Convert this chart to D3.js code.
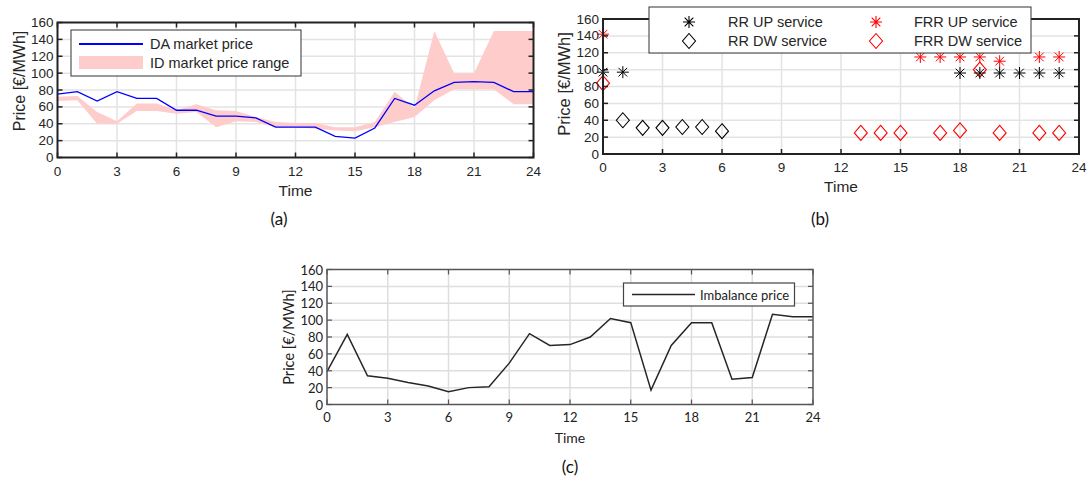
<!DOCTYPE html>
<html lang="en">
<head>
  <meta charset="UTF-8" />
  <title>D3 - price charts</title>
  <script src="https://d3js.org/d3.v7.min.js" charset="utf-8"></script>
  <style type="text/css">
  body { margin: 0; background: #fff; }
  svg { display: block; }
  .ml text { font-family: "Liberation Sans", Arial, sans-serif; fill: #262626; }
  .ex text { font-family: Lato, "Open Sans", sans-serif; fill: #222; }
  .cap { font-family: Lato, sans-serif; font-size: 17px; fill: #111; }
  </style>
</head>
<body>
<script type="text/javascript">

// ---- data ----
const hours = d3.range(0, 25);
const xTicks = [0, 3, 6, 9, 12, 15, 18, 21, 24];
const yTicks = [0, 20, 40, 60, 80, 100, 120, 140, 160];

// (a) day-ahead price and intraday price range
const daPrice = [75, 78, 67, 78, 70, 70, 56, 56, 49, 49, 47, 36, 36, 36, 25, 23, 35, 70, 62, 79, 89, 90, 89, 78, 78];
const idLow  = [67, 68, 40, 40, 55, 55, 52, 54, 36, 43, 42, 36, 36, 34, 32, 31, 36, 42, 48, 68, 81, 81, 81, 63, 63];
const idHigh = [72, 73, 54, 43, 64, 64, 56, 63, 56, 55, 48, 42, 41, 41, 36, 36, 42, 78, 58, 150, 100, 100, 150, 150, 150];

// (b) reserve services
const rrUpHours = [0, 1, 18, 19, 20, 21, 22, 23];
const rrUpPrice = [97, 97, 96, 96, 96, 96, 96, 96];
const rrDwHours = [1, 2, 3, 4, 5, 6];
const rrDwPrice = [40, 31, 31, 32, 32, 27];
const frrUpHours = [0, 16, 17, 18, 19, 20, 22, 23];
const frrUpPrice = [142, 115, 115, 115, 115, 110, 115, 115];
const frrDwHours = [0, 13, 14, 15, 17, 18, 19, 20, 22, 23];
const frrDwPrice = [84, 25, 25, 25, 25, 28, 100, 25, 25, 25];

// (c) imbalance price
const imbalance = [39, 83, 34, 31, 26, 22, 15, 20, 21, 49, 84, 70, 71, 80, 102, 97, 17, 70, 97, 97, 30, 32, 107, 104, 104];

const svg = d3.select("body").append("svg")
    .attr("width", 1088)
    .attr("height", 485);

svg.append("rect").attr("width", 1088).attr("height", 485).attr("fill", "#fff");

// grid lines of one panel
function frame(g, x, y, o) {
  const [x0, x1] = x.range(), [y0, y1] = y.range();
  const grid = g.append("g").attr("stroke", o.grid).attr("stroke-width", o.gridW);
  grid.selectAll(".gx").data(xTicks.slice(1, -1)).join("line")
      .attr("x1", d => x(d)).attr("x2", d => x(d)).attr("y1", y0).attr("y2", y1);
  grid.selectAll(".gy").data(yTicks.slice(1, -1)).join("line")
      .attr("x1", x0).attr("x2", x1).attr("y1", d => y(d)).attr("y2", d => y(d));
}

// box, inward ticks on all four sides, labels
function box(g, x, y, o) {
  const [x0, x1] = x.range(), [y0, y1] = y.range();
  const t = g.append("g").attr("stroke", o.axis).attr("stroke-width", o.tickW);
  const L = 5;
  xTicks.forEach(d => {
    t.append("line").attr("x1", x(d)).attr("x2", x(d)).attr("y1", y0).attr("y2", y0 - L);
    t.append("line").attr("x1", x(d)).attr("x2", x(d)).attr("y1", y1).attr("y2", y1 + L);
  });
  yTicks.forEach(d => {
    t.append("line").attr("x1", x0).attr("x2", x0 + L).attr("y1", y(d)).attr("y2", y(d));
    t.append("line").attr("x1", x1).attr("x2", x1 - L).attr("y1", y(d)).attr("y2", y(d));
  });
  g.append("rect")
      .attr("x", x0).attr("y", y1).attr("width", x1 - x0).attr("height", y0 - y1)
      .attr("fill", "none").attr("stroke", o.axis).attr("stroke-width", o.boxW);

  g.append("g").selectAll("text").data(xTicks).join("text")
      .attr("x", d => x(d)).attr("y", y0 + o.xLabOff)
      .attr("text-anchor", "middle").attr("dominant-baseline", "central")
      .attr("font-size", o.tickFs).text(d => d);
  g.append("g").selectAll("text").data(yTicks).join("text")
      .attr("x", x0 - 4).attr("y", d => y(d))
      .attr("text-anchor", "end").attr("dominant-baseline", "central")
      .attr("font-size", o.tickFs).text(d => d);

  g.append("text")
      .attr("x", (x0 + x1) / 2).attr("y", o.timeY)
      .attr("text-anchor", "middle").attr("dominant-baseline", "central")
      .attr("font-size", o.labFs).text("Time");
  g.append("text")
      .attr("transform", `translate(${o.priceX},${o.priceY}) rotate(-90)`)
      .attr("text-anchor", "middle").attr("dominant-baseline", "central")
      .attr("font-size", o.priceFs).text("Price [€/MWh]");
}

const star = r => {
  const d = r * 0.72;
  return `M${-r},0L${r},0M0,${-r}L0,${r}M${-d},${-d}L${d},${d}M${-d},${d}L${d},${-d}`;
};
const diamond = (w, h) => `M0,${-h}L${w},0L0,${h}L${-w},0Z`;

// ---------- (a) ----------
{
  const g = svg.append("g").attr("class", "ml");
  const x = d3.scaleLinear().domain([0, 24]).range([57.5, 533.5]);
  const y = d3.scaleLinear().domain([0, 160]).range([157.5, 22.5]);
  const o = { grid: "#e3e3e3", gridW: 1.5, axis: "#222", tickW: 1.5, boxW: 2,
              tickFs: 13.5, labFs: 15.5, priceFs: 16, xLabOff: 14, timeY: 190, priceX: 19, priceY: 81 };
  frame(g, x, y, o);

  g.append("path")
      .datum(hours)
      .attr("fill", "#ffcccc")
      .attr("d", d3.area().x(d => x(d)).y0(d => y(idLow[d])).y1(d => y(idHigh[d])));
  g.append("path")
      .datum(hours)
      .attr("fill", "none").attr("stroke", "#0000ff").attr("stroke-width", 1.3)
      .attr("d", d3.line().x(d => x(d)).y(d => y(daPrice[d])));

  box(g, x, y, o);

  const lg = g.append("g");
  lg.append("rect").attr("x", 71).attr("y", 30).attr("width", 230).attr("height", 46)
      .attr("fill", "#fff").attr("stroke", "#333").attr("stroke-width", 1);
  lg.append("line").attr("x1", 79).attr("x2", 143).attr("y1", 44).attr("y2", 44)
      .attr("stroke", "#0000ff").attr("stroke-width", 2);
  lg.append("rect").attr("x", 79).attr("y", 56).attr("width", 64).attr("height", 13).attr("fill", "#ffcccc");
  lg.append("text").attr("x", 150).attr("y", 44).attr("dominant-baseline", "central")
      .attr("font-size", 14.5).text("DA market price");
  lg.append("text").attr("x", 150).attr("y", 63).attr("dominant-baseline", "central")
      .attr("font-size", 14.5).text("ID market price range");
}

// ---------- (b) ----------
{
  const g = svg.append("g").attr("class", "ml");
  const x = d3.scaleLinear().domain([0, 24]).range([603, 1079]);
  const y = d3.scaleLinear().domain([0, 160]).range([154, 19]);
  const o = { grid: "#e3e3e3", gridW: 1.5, axis: "#222", tickW: 1.5, boxW: 2,
              tickFs: 13.5, labFs: 15.5, priceFs: 16.5, xLabOff: 13, timeY: 186, priceX: 564, priceY: 84 };
  frame(g, x, y, o);

  const pts = [
    { h: frrDwHours, v: frrDwPrice, d: diamond(6.5, 7.5), c: "#ff0000", w: 1.1 },
    { h: rrDwHours, v: rrDwPrice, d: diamond(6.5, 7.5), c: "#000", w: 1.1 },
    { h: frrUpHours, v: frrUpPrice, d: star(6), c: "#ff0000", w: 1 },
    { h: rrUpHours, v: rrUpPrice, d: star(6), c: "#000", w: 1 }
  ];
  pts.forEach(s => {
    g.append("g").selectAll("path").data(s.h).join("path")
        .attr("transform", (d, i) => `translate(${x(d)},${y(s.v[i])})`)
        .attr("d", s.d).attr("fill", "none").attr("stroke", s.c).attr("stroke-width", s.w);
  });

  box(g, x, y, o);

  const lg = g.append("g");
  lg.append("rect").attr("x", 649).attr("y", 7).attr("width", 382).attr("height", 46)
      .attr("fill", "#fff").attr("stroke", "#333").attr("stroke-width", 1);
  const items = [
    { t: "RR UP service", d: star(6), c: "#000", mx: 689, tx: 728, y: 22 },
    { t: "RR DW service", d: diamond(6.5, 7.5), c: "#000", mx: 689, tx: 728, y: 41 },
    { t: "FRR UP service", d: star(6), c: "#ff0000", mx: 876, tx: 914, y: 22 },
    { t: "FRR DW service", d: diamond(6.5, 7.5), c: "#ff0000", mx: 876, tx: 914, y: 41 }
  ];
  items.forEach(it => {
    lg.append("path").attr("transform", `translate(${it.mx},${it.y})`)
        .attr("d", it.d).attr("fill", "none").attr("stroke", it.c).attr("stroke-width", 1.1);
    lg.append("text").attr("x", it.tx).attr("y", it.y).attr("dominant-baseline", "central")
        .attr("font-size", 14.5).text(it.t);
  });
}

// ---------- (c) ----------
{
  const g = svg.append("g").attr("class", "ex");
  const x = d3.scaleLinear().domain([0, 24]).range([327, 813]);
  const y = d3.scaleLinear().domain([0, 160]).range([404.5, 269.5]);
  const o = { grid: "#dedede", gridW: 1.5, axis: "#555", tickW: 1.2, boxW: 1.5,
              tickFs: 13, labFs: 14, priceFs: 14.5, xLabOff: 12, timeY: 437, priceX: 288, priceY: 337 };
  frame(g, x, y, o);

  g.append("path")
      .datum(hours)
      .attr("fill", "none").attr("stroke", "#262626").attr("stroke-width", 1.5)
      .attr("d", d3.line().x(d => x(d)).y(d => y(imbalance[d])));

  box(g, x, y, o);

  const lg = g.append("g");
  lg.append("rect").attr("x", 623.5).attr("y", 283).attr("width", 171).attr("height", 23)
      .attr("fill", "#fff").attr("stroke", "#444").attr("stroke-width", 1.2);
  lg.append("line").attr("x1", 632).attr("x2", 695).attr("y1", 294.5).attr("y2", 294.5)
      .attr("stroke", "#262626").attr("stroke-width", 1.5);
  lg.append("text").attr("x", 700).attr("y", 294.5).attr("dominant-baseline", "central")
      .attr("font-size", 13).text("Imbalance price");
}

// captions
[["(a)", 279, 218], ["(b)", 820, 218], ["(c)", 570, 466]].forEach(([t, cx, cy]) => {
  svg.append("text").attr("class", "cap").attr("x", cx).attr("y", cy)
      .attr("text-anchor", "middle").attr("dominant-baseline", "central").text(t);
});

</script>
</body>
</html>
